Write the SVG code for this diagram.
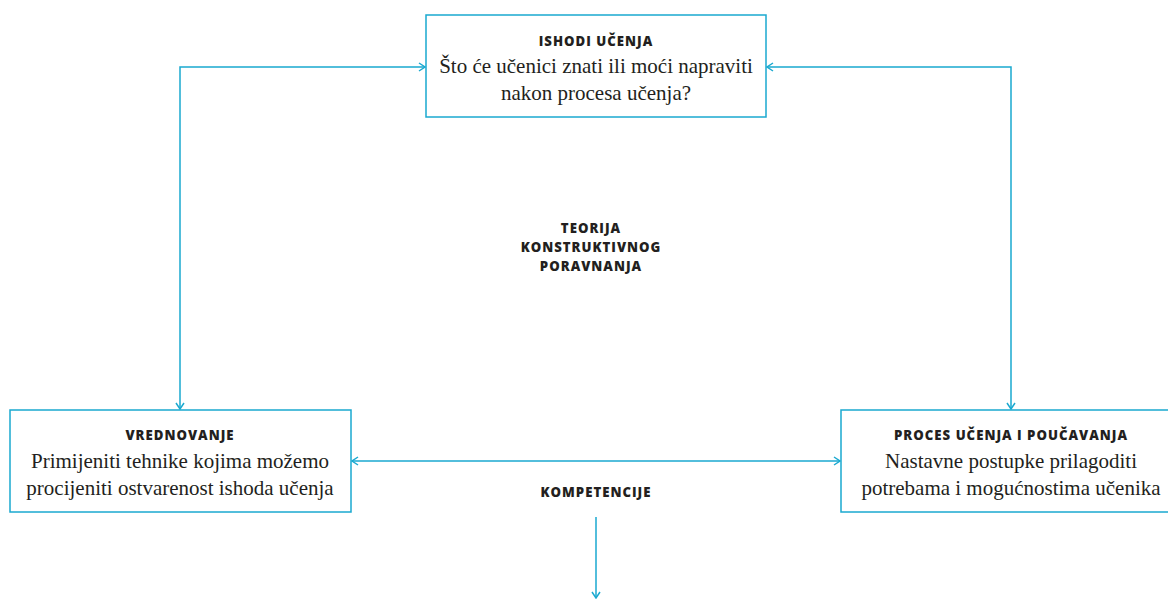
<svg xmlns="http://www.w3.org/2000/svg" width="1168" height="599" viewBox="0 0 1168 599">
<style>
.box{fill:#fff;stroke:#1aa9d0;stroke-width:1.5}
.con{fill:none;stroke:#1aa9d0;stroke-width:1.5}
.h{font-family:"Open Sans","Liberation Sans",sans-serif;font-weight:800;font-size:13.2px;letter-spacing:1px;fill:#231f20;text-anchor:middle}
.b{font-family:"Liberation Serif",serif;font-size:21px;fill:#231f20;text-anchor:middle}
</style>
<defs>
<marker id="arr" viewBox="0 0 10 10" refX="9" refY="5" markerWidth="10" markerHeight="10" markerUnits="userSpaceOnUse" orient="auto-start-reverse">
<path d="M3,1 L9,5 L3,9" fill="none" stroke="#1aa9d0" stroke-width="1.5"/>
</marker>
</defs>
<rect width="1168" height="599" fill="#fff"/>
<g id="connectors">
<polyline class="con" points="180,409 180,67 425,67" marker-start="url(#arr)" marker-end="url(#arr)"/>
<polyline class="con" points="767,67 1011,67 1011,409" marker-start="url(#arr)" marker-end="url(#arr)"/>
<line class="con" x1="352" y1="461" x2="840" y2="461" marker-start="url(#arr)" marker-end="url(#arr)"/>
<line class="con" x1="596" y1="517" x2="596" y2="598" marker-end="url(#arr)"/>
</g>
<g id="ishodi">
<rect class="box" x="426" y="15" width="340" height="102"/>
<text class="h" x="596" y="46">ISHODI UČENJA</text>
<text class="b" x="596" y="73">Što će učenici znati ili moći napraviti</text>
<text class="b" x="596" y="100">nakon procesa učenja?</text>
</g>
<g id="vrednovanje">
<rect class="box" x="10" y="410" width="341" height="102"/>
<text class="h" x="180" y="440">VREDNOVANJE</text>
<text class="b" x="180" y="468">Primijeniti tehnike kojima možemo</text>
<text class="b" x="180" y="495">procijeniti ostvarenost ishoda učenja</text>
</g>
<g id="proces">
<rect class="box" x="841" y="410" width="340" height="102"/>
<text class="h" x="1011" y="440">PROCES UČENJA I POUČAVANJA</text>
<text class="b" x="1011" y="468">Nastavne postupke prilagoditi</text>
<text class="b" x="1011" y="495">potrebama i mogućnostima učenika</text>
</g>
<g id="teorija">
<text class="h" x="591" y="233">TEORIJA</text>
<text class="h" x="591" y="252">KONSTRUKTIVNOG</text>
<text class="h" x="591" y="271">PORAVNANJA</text>
</g>
<g id="kompetencije">
<text class="h" x="596" y="497">KOMPETENCIJE</text>
</g>
</svg>
